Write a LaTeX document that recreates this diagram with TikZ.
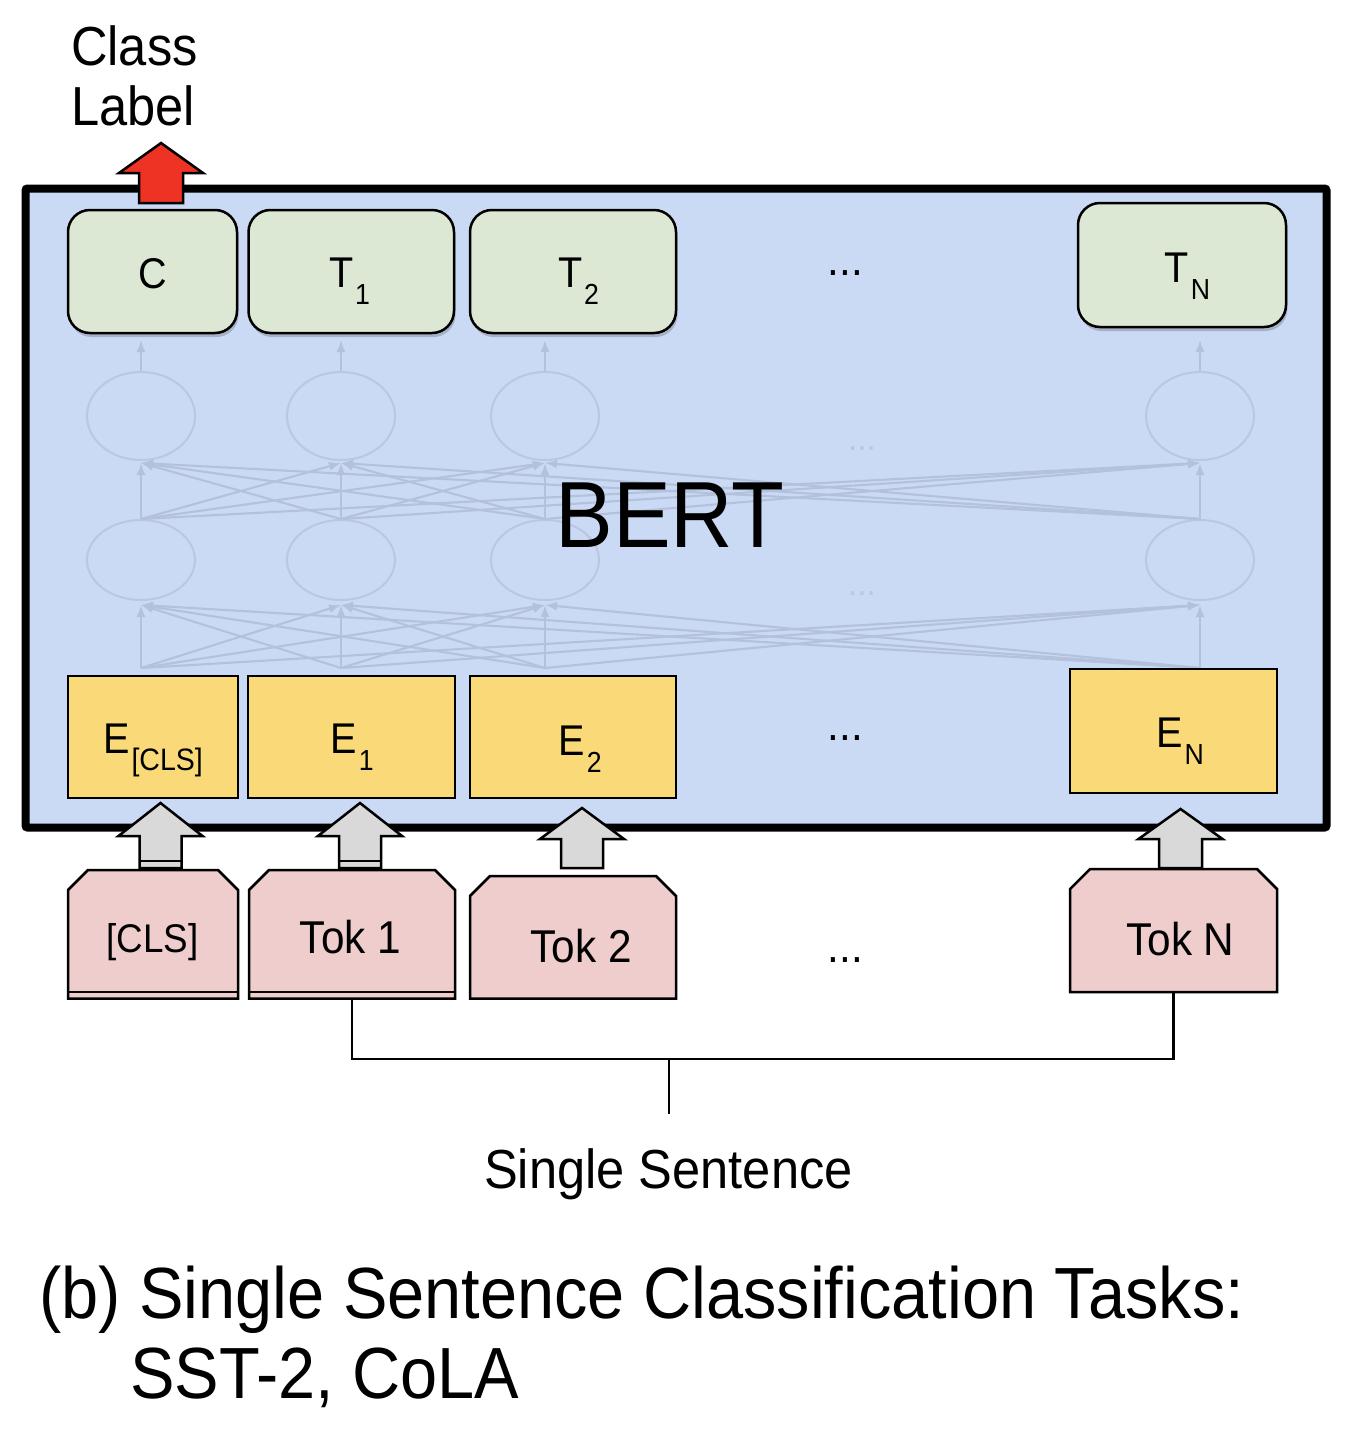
\documentclass[tikz,border=0pt]{standalone}
\usepackage{fontspec}
\setmainfont{Liberation Sans}[FakeStretch=0.92]
\usetikzlibrary{shapes.geometric,arrows.meta,shadows}
\definecolor{bertblue}{HTML}{CAD9F4}
\definecolor{outgreen}{HTML}{DCE8D4}
\definecolor{embyellow}{HTML}{F9D978}
\definecolor{tokpink}{HTML}{EECDCC}
\definecolor{arrgray}{HTML}{D9D9D9}
\definecolor{clsred}{HTML}{EE3224}
\definecolor{netgray}{HTML}{B3C1DC}
\definecolor{netcirc}{HTML}{BAC7E0}
\newcommand{\lsub}[2][29]{\hspace{2pt}\raisebox{-17pt}{\fontsize{#1}{#1}\selectfont #2}}
\newcommand{\chamf}[1]{\draw[tokshape] (#1.south west) -- ([yshift=-20pt]#1.north west) -- ([xshift=20pt]#1.north west) -- ([xshift=-20pt]#1.north east) -- ([yshift=-20pt]#1.north east) -- (#1.south east) -- cycle;}
% #1 style, #2 centre x, #3 tip y, #4 head base y, #5 head half width, #6 shaft half width, #7 bottom y
\newcommand{\blockarr}[7]{\draw[#1] (#2,#3) -- ({#2+#5},#4) -- ({#2+#6},#4) -- ({#2+#6},#7) -- ({#2-#6},#7) -- ({#2-#6},#4) -- ({#2-#5},#4) -- cycle;}
\tikzset{
  bertbox/.style={draw=black, line width=8pt, fill=bertblue, rounded corners=2pt, inner sep=0pt, minimum width=1301pt, minimum height=639pt},
  outbox/.style={draw=black, line width=2.5pt, fill=outgreen, rounded corners=22pt, inner sep=0pt,
    drop shadow={shadow xshift=1.5pt, shadow yshift=-4pt, opacity=0.28, fill=black!70}},
  embbox/.style={draw=black, line width=2.5pt, fill=embyellow, inner sep=0pt},
  tokholder/.style={inner sep=0pt, outer sep=0pt},
  tokshape/.style={draw=black, line width=2.5pt, fill=tokpink, line join=miter},
  grayarr/.style={draw=black, line width=2.5pt, fill=arrgray, line join=miter},
  redarr/.style={draw=black, line width=2.5pt, fill=clsred, line join=miter},
  lbl/.style={anchor=base, inner sep=0pt, font=\fontsize{43}{50}\selectfont},
  toklbl/.style={anchor=base, inner sep=0pt, font=\fontsize{46}{50}\selectfont},
  clslbl/.style={anchor=base, inner sep=0pt, font=\fontsize{40}{46}\selectfont},
  dotlbl/.style={anchor=base, inner sep=0pt, font=\fontsize{46}{50}\selectfont},
  fdotlbl/.style={anchor=base, inner sep=0pt, text=netcirc, font=\fontsize{36}{40}\selectfont},
  netnodeup/.style={ellipse, draw=netcirc, line width=2pt, inner sep=0pt, minimum width=108pt, minimum height=88pt},
  netnodedn/.style={ellipse, draw=netcirc, line width=2pt, inner sep=0pt, minimum width=108pt, minimum height=80pt},
  netline/.style={draw=netgray, line width=2.1pt, -{Latex[length=12pt,width=9pt]}},
  brkline/.style={draw=black, line width=2.5pt},
  bigtxt/.style={anchor=base west, inner sep=0pt, font=\fontsize{55}{60}\selectfont},
}
\begin{document}
\begin{tikzpicture}[x=1pt,y=-1pt]
\useasboundingbox (0,0) rectangle (1362,1440);
\fill[white] (0,0) rectangle (1362,1440);

% BERT box
\node[bertbox] (bert) at (676,508) {};

% faint network
\foreach \i/\x in {1/141,2/341,3/545,4/1200}{
  \node[netnodeup] (u\i) at (\x,416) {};
  \node[netnodedn] (d\i) at (\x,560) {};
  \coordinate (eo\i) at (\x,668);
  \coordinate (ut\i) at (\x,340);
}
\foreach \i in {1,2,3,4}{
  \foreach \j in {1,2,3,4}{
    \draw[netline] (eo\i) -- ([yshift=-4pt]d\j.south);
    \draw[netline] (d\i.north) -- ([yshift=-2pt]u\j.south);
  }
  \draw[netline] (u\i.north) -- (ut\i);
}
\node[fdotlbl] (fd1) at (862,450) {...};
\node[fdotlbl] (fd2) at (862,595) {...};

% BERT label
\node[anchor=base, inner sep=0pt, font=\fontsize{94}{94}\selectfont] (bertlbl) at (670,547) {BERT};

% output boxes
\node[outbox, minimum width=169pt, minimum height=123pt] (oC) at (152.5,271.5) {};
\node[outbox, minimum width=205.5pt, minimum height=123pt] (oT1) at (351.25,271.5) {};
\node[outbox, minimum width=206pt, minimum height=123pt] (oT2) at (573,271.5) {};
\node[outbox, minimum width=208pt, minimum height=124pt] (oTN) at (1182,265) {};
\node[lbl] (lC) at (152.5,288) {C};
\node[lbl] (lT1) at (349.5,287) {T\lsub{1}};
\node[lbl] (lT2) at (578.5,287) {T\lsub{2}};
\node[lbl] (lTN) at (1187.5,282) {T\lsub{N}};
\node[dotlbl] (dotsT) at (845.5,275) {...};

% embedding boxes
\node[embbox, minimum width=170pt, minimum height=122pt] (eC) at (153,737) {};
\node[embbox, minimum width=207pt, minimum height=122pt] (e1) at (351.5,737) {};
\node[embbox, minimum width=206pt, minimum height=122pt] (e2) at (573,737) {};
\node[embbox, minimum width=207pt, minimum height=124pt] (eN) at (1173.5,731) {};
\node[lbl] (lEC) at (153,753) {E\lsub[31]{[CLS]}};
\node[lbl] (lE1) at (352,753) {E\lsub{1}};
\node[lbl] (lE2) at (580,755) {E\lsub{2}};
\node[lbl] (lEN) at (1180,747) {E\lsub{N}};
\node[dotlbl] (dotsE) at (845.5,740) {...};

% red class-label arrow
\blockarr{redarr}{161}{143}{173}{42}{22}{203}

% token boxes
\node[tokholder, minimum width=170pt, minimum height=128.5pt] (tokC) at (153,934.25) {};
\node[tokholder, minimum width=206pt, minimum height=128.5pt] (tok1) at (352,934.25) {};
\node[tokholder, minimum width=206pt, minimum height=122.5pt] (tok2) at (573,937.25) {};
\node[tokholder, minimum width=207pt, minimum height=123pt] (tokN) at (1173.5,930.5) {};
\chamf{tokC}
\chamf{tok1}
\chamf{tok2}
\chamf{tokN}
\draw[line width=2pt] (68,992) -- (238,992);
\draw[line width=2pt] (249,992) -- (455,992);
\node[clslbl] (ltC) at (152.5,952) {[CLS]};
\node[toklbl] (lt1) at (350.5,953) {Tok 1};
\node[toklbl] (lt2) at (581,962) {Tok 2};
\node[toklbl] (ltN) at (1180.5,955) {Tok N};
\node[dotlbl] (dotsTok) at (845.5,962) {...};

% gray input arrows
\blockarr{grayarr}{160.5}{803}{836}{42}{21}{868}
\blockarr{grayarr}{360}{803}{836}{42}{21}{868}
\blockarr{grayarr}{582}{808}{839}{42}{21}{868}
\blockarr{grayarr}{1180.5}{809}{839}{42}{21.5}{868}
\draw[line width=2pt] (139.5,861) -- (181.5,861);
\draw[line width=2pt] (339,861) -- (381,861);

% bracket
\coordinate (brk) at (669,1059);
\coordinate (stemend) at (669,1114);
\draw[brkline] (tok1.south) |- (tokN.south |- brk) -- (tokN.south);
\draw[brkline] (brk) -- (stemend);
\node[anchor=base, inner sep=0pt, font=\fontsize{55}{60}\selectfont] (sent) at (668.5,1188) {Single Sentence};

% class label
\node[bigtxt] (cl1) at (71,65) {Class};
\node[bigtxt] (cl2) at (71,125) {Label};

% caption
\node[anchor=base west, inner sep=0pt, font=\fontsize{72.5}{80}\selectfont] (cap1) at (39,1318) {(b) Single Sentence Classification Tasks:};
\node[anchor=base west, inner sep=0pt, font=\fontsize{72.5}{80}\selectfont] (cap2) at (130,1398) {SST-2, CoLA};
\end{tikzpicture}
\end{document}
